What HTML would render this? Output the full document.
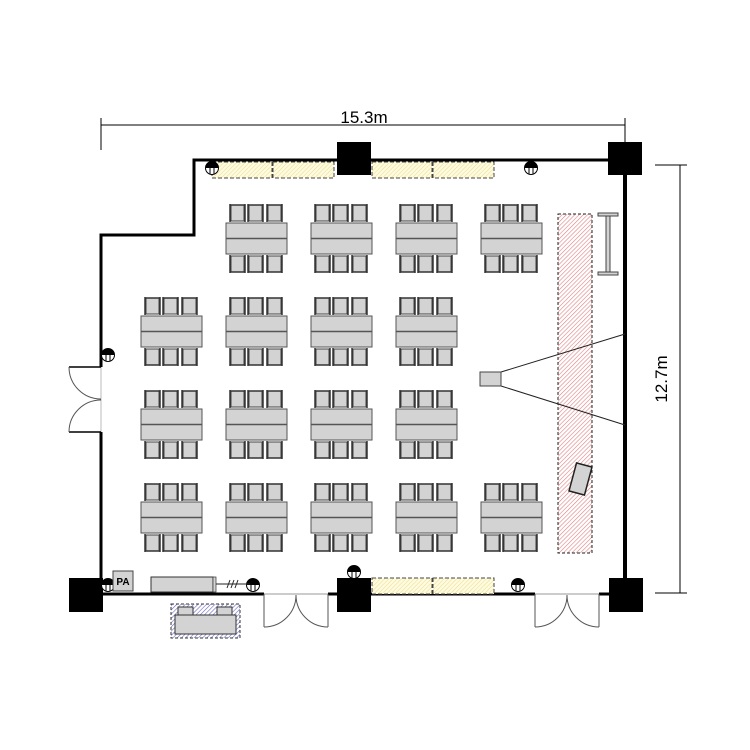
<!DOCTYPE html>
<html><head><meta charset="utf-8"><style>html,body{margin:0;padding:0;background:#fff}svg{display:block}</style></head>
<body>
<svg id="s" width="750" height="750" viewBox="0 0 750 750" xmlns="http://www.w3.org/2000/svg">
<defs>
<pattern id="hy" width="3" height="3" patternUnits="userSpaceOnUse" patternTransform="rotate(45)"><rect width="3" height="3" fill="#fffbe0"/><line x1="0" y1="0" x2="0" y2="3" stroke="#e8dc8a" stroke-width="1"/></pattern>
<pattern id="hr" width="3" height="3" patternUnits="userSpaceOnUse" patternTransform="rotate(45)"><rect width="3" height="3" fill="#fff"/><line x1="0" y1="0" x2="0" y2="3" stroke="#e08080" stroke-width="1.2"/></pattern>
<pattern id="hb" width="3" height="3" patternUnits="userSpaceOnUse" patternTransform="rotate(45)"><rect width="3" height="3" fill="#fff"/><line x1="0" y1="0" x2="0" y2="3" stroke="#6a6ac0" stroke-width="1.2"/></pattern>
</defs>
<g stroke="#000" stroke-width="1" fill="none">
<line x1="101" y1="125" x2="625" y2="125"/><line x1="101" y1="118" x2="101" y2="150"/><line x1="625" y1="118" x2="625" y2="150"/>
<line x1="680" y1="165" x2="680" y2="593"/><line x1="655" y1="165" x2="687" y2="165"/><line x1="655" y1="593" x2="687" y2="593"/>
</g>
<text x="364" y="123" font-family="Liberation Sans, sans-serif" font-size="17" text-anchor="middle">15.3m</text>
<text transform="translate(667,379) rotate(-90)" font-family="Liberation Sans, sans-serif" font-size="17" text-anchor="middle">12.7m</text>
<g stroke="#000" stroke-width="3" fill="none">
<polyline points="625,160 194,160 194,235 101,235 101,367"/>
<line x1="101" y1="432" x2="101" y2="594"/>
<line x1="101" y1="594" x2="264" y2="594"/>
<line x1="328" y1="594" x2="535" y2="594"/>
<line x1="599" y1="594" x2="625" y2="594"/>
</g>
<line x1="625" y1="160" x2="625" y2="594" stroke="#000" stroke-width="4"/>
<g fill="url(#hy)" stroke="#444" stroke-width="1" stroke-dasharray="4,2">
<rect x="212" y="162" width="60" height="16"/><rect x="273" y="162" width="61" height="16"/>
<rect x="372" y="162" width="60" height="16"/><rect x="433" y="162" width="61" height="16"/>
<rect x="372" y="578" width="60" height="16"/><rect x="433" y="578" width="61" height="16"/>
</g>
<g fill="#000">
<rect x="337" y="142" width="34" height="33"/><rect x="608" y="142" width="34" height="33"/>
<rect x="69" y="578" width="34" height="34"/><rect x="337" y="578" width="34" height="34"/><rect x="609" y="578" width="34" height="34"/>
</g>
<g stroke="#555" stroke-width="1" fill="none">
<line x1="101" y1="367" x2="101" y2="432" stroke="#bbb"/>
<line x1="69" y1="367" x2="101" y2="367" stroke="#000" stroke-width="1.5"/><line x1="69" y1="432" x2="101" y2="432" stroke="#000" stroke-width="1.5"/>
<path d="M69,367 A32,32 0 0 0 101,399"/><path d="M69,432 A32,32 0 0 1 101,400"/>
<line x1="264" y1="594" x2="328" y2="594" stroke="#999"/>
<line x1="264" y1="594" x2="264" y2="627"/><line x1="328" y1="594" x2="328" y2="627"/>
<path d="M264,627 A32,32 0 0 0 296,595"/><path d="M328,627 A32,32 0 0 1 296,595"/>
<line x1="535" y1="594" x2="599" y2="594" stroke="#999"/>
<line x1="535" y1="594" x2="535" y2="627"/><line x1="599" y1="594" x2="599" y2="627"/>
<path d="M535,627 A32,32 0 0 0 567,595"/><path d="M599,627 A32,32 0 0 1 567,595"/>
</g>
<rect x="558" y="214" width="34" height="339" fill="url(#hr)" stroke="#222" stroke-width="1" stroke-dasharray="3,2"/>
<rect x="-8" y="-14.5" width="16" height="29" fill="#d3d3d3" stroke="#222" stroke-width="1.5" transform="translate(580.5,479) rotate(15)"/>
<g stroke="#444" stroke-width="1" fill="#d3d3d3">
<rect x="598" y="213" width="20" height="3"/><rect x="598" y="272" width="20" height="3"/><rect x="606" y="216" width="4" height="56"/>
</g>
<line x1="501" y1="372" x2="625" y2="334" stroke="#222" stroke-width="1"/>
<line x1="501" y1="386" x2="625" y2="425" stroke="#222" stroke-width="1"/>
<rect x="480" y="372" width="21" height="14" fill="#d3d3d3" stroke="#444" stroke-width="1"/>
<g id="tables"></g>
<g id="outlets"></g>
<rect x="113" y="571" width="20" height="20" fill="#d3d3d3" stroke="#444"/>
<text x="123" y="585" font-family="Liberation Sans, sans-serif" font-size="10" font-weight="bold" text-anchor="middle">PA</text>
<rect x="151" y="577" width="62" height="15" fill="#d3d3d3" stroke="#333"/>
<rect x="213" y="577" width="3" height="15" fill="#d3d3d3" stroke="#333" stroke-width="0.7"/>
<line x1="216" y1="584" x2="250" y2="584" stroke="#222"/>
<g stroke="#222"><line x1="227" y1="588" x2="230" y2="580"/><line x1="231" y1="588" x2="234" y2="580"/><line x1="235" y1="588" x2="238" y2="580"/></g>
<rect x="171" y="604" width="69" height="34" fill="url(#hb)" stroke="#333" stroke-dasharray="3,2"/>
<rect x="175" y="615" width="61" height="19" fill="#d3d3d3" stroke="#333"/>
<rect x="178" y="607" width="15" height="8" fill="#d3d3d3" stroke="#333"/>
<rect x="217" y="607" width="15" height="8" fill="#d3d3d3" stroke="#333"/>
</svg>
<script>
var NS="http://www.w3.org/2000/svg",T=document.getElementById("tables"),O=document.getElementById("outlets");
function el(p,n,a){var e=document.createElementNS(NS,n);for(var k in a)e.setAttribute(k,a[k]);p.appendChild(e);return e;}
function chair(x,y,up){el(T,"rect",{x:x+1,y:y+1,width:13,height:16,fill:"#d3d3d3",stroke:"#444","stroke-width":1});
el(T,"line",{x1:x,y1:y,x2:x,y2:y+18,stroke:"#333","stroke-width":1.5});el(T,"line",{x1:x+15,y1:y,x2:x+15,y2:y+18,stroke:"#333","stroke-width":1.5});
var by=up?y+1:y+17;el(T,"line",{x1:x,y1:by,x2:x+15,y2:by,stroke:"#333","stroke-width":1.5});}
function table(x,y){[4,22,41].forEach(function(o){chair(x+o,y-19,true);chair(x+o,y+32,false);});
el(T,"rect",{x:x,y:y,width:61,height:31,fill:"#d3d3d3",stroke:"#555","stroke-width":1});
el(T,"line",{x1:x,y1:y+15.5,x2:x+61,y2:y+15.5,stroke:"#555","stroke-width":1.5});}
var rows=[[223,[226,311,396,481]],[316,[141,226,311,396]],[409,[141,226,311,396]],[502,[141,226,311,396,481]]];
rows.forEach(function(r){r[1].forEach(function(x){table(x,r[0]);});});
[[212,168],[531,168],[108,355],[108,585],[253,585],[354,572],[518,585]].forEach(function(p){var x=p[0],y=p[1];
el(O,"circle",{cx:x,cy:y,r:6.5,fill:"#fff",stroke:"#000","stroke-width":1});
el(O,"path",{d:"M"+(x-6.5)+","+y+" A6.5,6.5 0 0 1 "+(x+6.5)+","+y+" Z",fill:"#000"});
el(O,"line",{x1:x-2,y1:y,x2:x-2,y2:y+6.5,stroke:"#000"});el(O,"line",{x1:x+2,y1:y,x2:x+2,y2:y+6.5,stroke:"#000"});});
</script>
</body></html>
